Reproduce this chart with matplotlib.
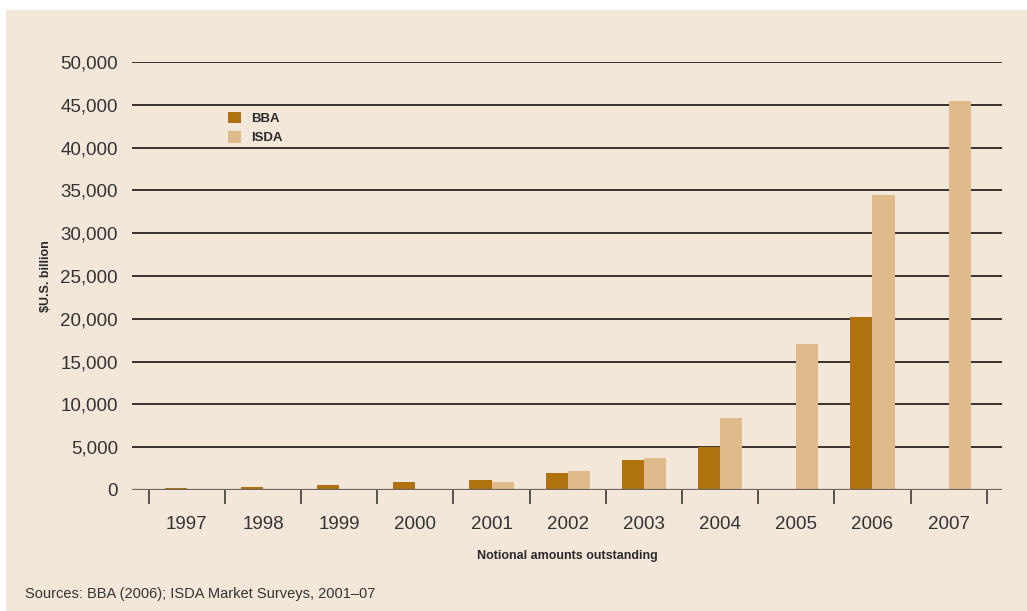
import numpy as np
import matplotlib.pyplot as plt
from matplotlib.patches import Rectangle
from matplotlib.ticker import FuncFormatter

plt.rcParams['font.family'] = ['Liberation Sans', 'DejaVu Sans']

years = ['1997', '1998', '1999', '2000', '2001', '2002', '2003', '2004', '2005', '2006', '2007']
bba = [180, 350, 586, 893, 1189, 1952, 3548, 5021, 0, 20207, 0]
isda = [0, 0, 0, 0, 919, 2192, 3779, 8422, 17096, 34423, 45464]

bg = '#f3e7da'
c_bba = '#b0720e'
c_isda = '#dfbb8c'
grid_c = '#3a3230'

W, H = 1027, 611
fig = plt.figure(figsize=(W / 100, H / 100), dpi=100, facecolor='white')
# beige panel
fig.patches.append(Rectangle((6 / W, 0), 1 - 6 / W, 1 - 10 / H, transform=fig.transFigure,
                             facecolor=bg, edgecolor='none', zorder=-10))

left, right = 132, 1002
top, bottom = 62, 490
ax = fig.add_axes([left / W, 1 - bottom / H, (right - left) / W, (bottom - top) / H])
ax.set_facecolor('none')

x = np.arange(len(years))
bw = 0.29
ax.bar(x - bw / 2, bba, width=bw, color=c_bba, zorder=3, label='BBA')
ax.bar(x + bw / 2, isda, width=bw, color=c_isda, zorder=3, label='ISDA')

ax.set_ylim(0, 50000)
ax.set_xlim(-0.72, 10.7)
ax.set_yticks(np.arange(0, 50001, 5000))
ax.yaxis.set_major_formatter(FuncFormatter(lambda v, p: f'{int(v):,}'))
for v in np.arange(5000, 50001, 5000):
    ax.axhline(v, color=grid_c, lw=1.4, zorder=1)
ax.axhline(0, color='#6e6560', lw=1.6, zorder=4)

for s in ax.spines.values():
    s.set_visible(False)

ax.tick_params(axis='y', length=0, pad=10, labelsize=13.5, labelcolor='#333333')
ax.set_xticks(x)
ax.set_xticklabels(years)
ax.tick_params(axis='x', length=0, pad=19, labelsize=13.5, labelcolor='#333333')
ax.set_xticks(np.arange(-0.5, 11, 1), minor=True)
ax.tick_params(axis='x', which='minor', length=10, width=1.4, color='#5a524e', direction='out')

ax.set_ylabel('$U.S. billion', fontsize=9, fontweight='bold', color='#2a2a2a', labelpad=6)
ax.set_xlabel('Notional amounts outstanding', fontsize=9, fontweight='bold', color='#2a2a2a', labelpad=12)

leg = ax.legend(loc='upper left', bbox_to_anchor=(0.097, 0.912), frameon=False,
                handlelength=1.0, handleheight=1.0, handletextpad=0.75,
                labelspacing=0.45, prop={'weight': 'bold', 'size': 9.5})
for t in leg.get_texts():
    t.set_color('#2a2a2a')

fig.text(25 / W, 1 - 594 / H, 'Sources: BBA (2006); ISDA Market Surveys, 2001\u201307',
         fontsize=10.5, color='#333333', va='center', ha='left')

fig.savefig('out.png', dpi=100, facecolor='white')
